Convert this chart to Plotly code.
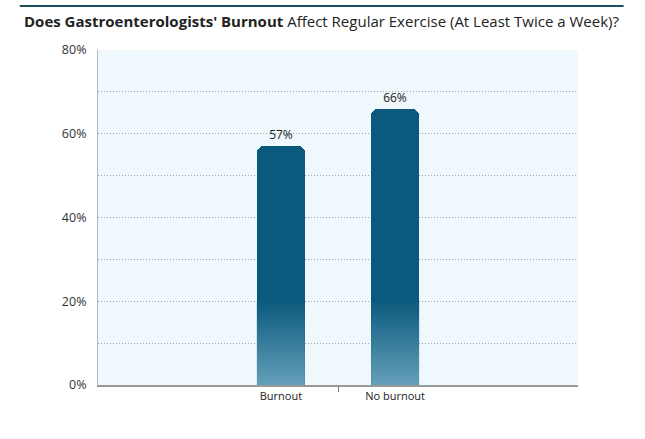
import plotly.graph_objects as go

categories = ["Burnout", "No burnout"]
values = [57, 66]
y_ticks = [0, 20, 40, 60, 80]
y_tick_labels = ["0%", "20%", "40%", "60%", "80%"]

FONT = "'Open Sans', Lato, sans-serif"
DARK = "#0b5a7d"
LIGHT = "#649fba"
BAR_W = 0.42
GRAD_TOP = 20

xs = list(range(len(categories)))

fig = go.Figure()
fig.add_trace(go.Bar(
    x=xs, y=values, width=BAR_W,
    marker=dict(color=DARK, line=dict(width=0)),
    texttemplate="%{y}%", textposition="outside",
    textfont=dict(size=12, color="#222", family=FONT),
    cliponaxis=False, hoverinfo="skip",
))
# gradient at the bottom of each bar
for x in xs:
    fig.add_trace(go.Scatter(
        x=[x - BAR_W / 2, x + BAR_W / 2, x + BAR_W / 2, x - BAR_W / 2, x - BAR_W / 2],
        y=[0, 0, GRAD_TOP, GRAD_TOP, 0],
        mode="lines", line=dict(width=0), fill="toself",
        fillgradient=dict(type="vertical", start=0, stop=GRAD_TOP,
                          colorscale=[[0, LIGHT], [1, DARK]]),
        hoverinfo="skip", showlegend=False,
    ))

fig.update_layout(
    width=645, height=439,
    margin=dict(l=98, r=67, t=50, b=54),
    paper_bgcolor="white", plot_bgcolor="#eef8fd",
    showlegend=False, bargap=0,
    barcornerradius=7,
    font=dict(family=FONT, color="#333"),
    xaxis=dict(
        range=[-1.6, 2.6], tickvals=xs, ticktext=categories,
        ticks="", showgrid=False, zeroline=False,
        showline=True, linecolor="#999", linewidth=1.5,
        tickfont=dict(size=11, color="#222"),
        minor=dict(tickvals=[0.5], ticks="outside", ticklen=5, tickcolor="#777", showgrid=False),
    ),
    yaxis=dict(
        range=[0, 80], tickvals=y_ticks, ticktext=y_tick_labels,
        showgrid=True, gridcolor="#9aa6ab", griddash="1px,2px", gridwidth=1,
        zeroline=False,
        showline=True, linecolor="#bbb", linewidth=1,
        tickfont=dict(size=12.5, color="#333"), ticks="", ticklabelstandoff=8,
        minor=dict(dtick=10, showgrid=True, gridcolor="#9aa6ab", griddash="1px,2px", gridwidth=1),
    ),
    annotations=[dict(
        xref="paper", yref="paper", x=-0.158, y=1.086, xanchor="left", yanchor="middle",
        showarrow=False,
        text="<b>Does Gastroenterologists' Burnout</b> Affect Regular Exercise (At Least Twice a Week)?",
        font=dict(size=15, color="#222", family=FONT),
    )],
    shapes=[dict(type="line", xref="paper", yref="paper", x0=-0.163, x1=1.095, y0=1.131, y1=1.131,
                 line=dict(color="#1d4e5e", width=2))],
)
fig.write_html("out.html")
